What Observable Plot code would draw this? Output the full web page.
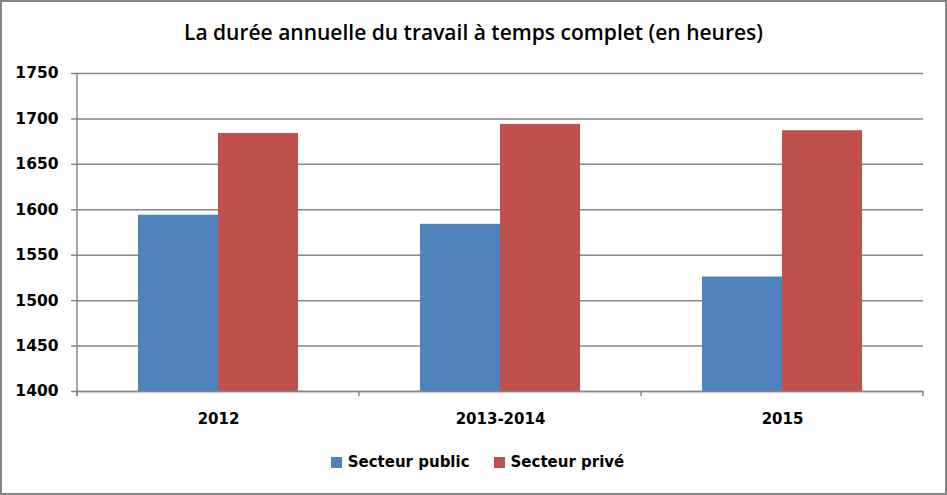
<!DOCTYPE html>
<html>
<head>
<meta charset="utf-8">
<script src="https://cdn.jsdelivr.net/npm/d3@7"></script>
<script src="https://cdn.jsdelivr.net/npm/@observablehq/plot@0.6"></script>
<style>
  body { margin: 0; background: #fff; }
  #wrap { position: relative; width: 947px; height: 495px; overflow: hidden; background: #fff; }
  #title { position: absolute; top: 18px; left: 0; width: 947px; text-align: center;
           font: 600 21px "Open Sans", Lato, sans-serif; color: #000; }
  #chart { position: absolute; top: 0; left: 0; }
  #legend { position: absolute; top: 453px; left: 4px; width: 947px; display: flex; justify-content: center; gap: 24px;
            font: bold 15px "DejaVu Sans", sans-serif; color: #000; }
  .item { display: flex; align-items: center; gap: 6px; }
  .sw { width: 11px; height: 11px; display: inline-block; }
  #border { position: absolute; left: 0; top: 0; width: 947px; height: 495px; box-sizing: border-box;
            border: 2px solid #868686; pointer-events: none; }
</style>
</head>
<body>
<div id="wrap">
  <div id="title">La durée annuelle du travail à temps complet (en heures)</div>
  <div id="chart"></div>
  <div id="legend"></div>
  <div id="border"></div>
</div>
<script>
const categories = ["2012", "2013-2014", "2015"];
const series = ["Secteur public", "Secteur privé"];
const publicValues = [1594, 1584, 1526];
const priveValues = [1684, 1694, 1687];
const yTicks = [1400, 1450, 1500, 1550, 1600, 1650, 1700, 1750];
const colors = ["#4F81BD", "#C0504D"];

const data = categories.flatMap((c, i) => [
  {cat: c, serie: series[0], value: publicValues[i]},
  {cat: c, serie: series[1], value: priveValues[i]}
]);

const yMin = yTicks[0];
const grey = "#868686";

const chart = Plot.plot({
  width: 947,
  height: 441,
  marginLeft: 76,
  marginRight: 24,
  marginTop: 73,
  marginBottom: 50,
  style: {fontFamily: "'DejaVu Sans', sans-serif", fontSize: "15px", fontWeight: "bold", color: "#000", background: "transparent", overflow: "visible"},
  fx: {domain: categories, padding: 0, label: null, axis: null},
  x: {domain: series, paddingInner: 0, paddingOuter: 0.75, axis: null},
  y: {domain: [yTicks[0], yTicks[yTicks.length - 1]], label: null, axis: null},
  color: {domain: series, range: colors},
  marks: [
    Plot.gridY(yTicks, {stroke: grey, strokeOpacity: 1, strokeWidth: 1.5}),
    Plot.barY(data, {fx: "cat", x: "serie", y1: yMin, y2: "value", fill: "serie"}),
    Plot.ruleY([yMin], {stroke: grey, strokeWidth: 1.5}),
    Plot.axisY(yTicks, {tickSize: 6, tickPadding: 13, tickFormat: d => String(d), stroke: grey, strokeWidth: 1.5, fill: "#000", fontSize: 15.5, label: null}),
    Plot.axisFx({anchor: "bottom", tickSize: 0, tickPadding: 22, label: null, fill: "#000"})
  ]
});
document.getElementById("chart").appendChild(chart);

// axis line and category boundary ticks, derived from the plot's own scales
const fx = chart.scale("fx");
const ys = chart.scale("y");
const yScale = d3.scaleLinear(ys.domain, ys.range);
const svg = d3.select(chart);
const xs = fx.domain.map(d => fx.apply(d));
xs.push(xs[xs.length - 1] + fx.bandwidth);
const y0 = yScale(yMin), y1 = yScale(yTicks[yTicks.length - 1]);
svg.append("line").attr("x1", xs[0]).attr("x2", xs[0]).attr("y1", y1).attr("y2", y0 + 5)
  .attr("stroke", grey).attr("stroke-width", 1.5);
svg.selectAll("line.bt").data(xs).join("line").attr("class", "bt")
  .attr("x1", d => d).attr("x2", d => d).attr("y1", y0).attr("y2", y0 + 5)
  .attr("stroke", grey).attr("stroke-width", 1.5);

const legend = document.getElementById("legend");
series.forEach((s, i) => {
  const it = document.createElement("div");
  it.className = "item";
  it.innerHTML = `<span class="sw" style="background:${colors[i]}"></span><span>${s}</span>`;
  legend.appendChild(it);
});
</script>
</body>
</html>
